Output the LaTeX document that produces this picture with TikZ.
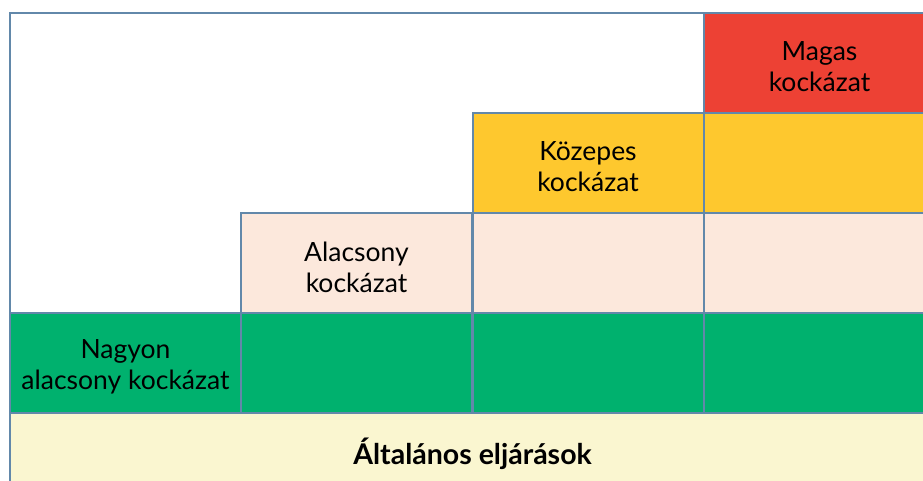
\documentclass[tikz,border=0pt]{standalone}
\usepackage{fontspec}
\setmainfont{Lato}
\definecolor{rimblue}{RGB}{98,136,170}
\definecolor{riskred}{RGB}{237,65,52}
\definecolor{riskyellow}{RGB}{254,200,46}
\definecolor{riskpeach}{RGB}{252,232,220}
\definecolor{riskgreen}{RGB}{0,177,110}
\definecolor{basecream}{RGB}{250,246,208}
\tikzset{
    cell/.style={rectangle,draw=rimblue,line width=2pt,minimum width=231pt,minimum height=100pt,inner sep=0pt},
    high/.style={cell,fill=riskred},
    mid/.style={cell,fill=riskyellow},
    low/.style={cell,fill=riskpeach},
    vlow/.style={cell,fill=riskgreen},
    celltext/.style={align=center,yshift=-4pt,inner sep=0pt,font=\fontsize{26.5}{31}\selectfont},
    base/.style={rectangle,draw=rimblue,line width=2pt,minimum width=925pt,minimum height=82pt,inner sep=0pt,fill=basecream,font=\fontsize{28.5}{31}\selectfont\bfseries},
}

\begin{document}
\begin{tikzpicture}[x=1pt,y=-1pt]
    \useasboundingbox (0,0) rectangle (923,480);
    \fill[white] (0,0) rectangle (923,480);
    \node[rectangle,draw=rimblue,line width=2pt,minimum width=925pt,minimum height=482pt,inner sep=0pt] (frame) at (472.5,254) {};
    % row 1
    \node[high] (m4) at (819.5,63) {};
    % row 2
    \node[mid] (k3) at (588,163) {};
    \node[mid] (k4) at (819.5,163) {};
    % row 3
    \node[low] (a2) at (356.5,263) {};
    \node[low] (a3) at (588,263) {};
    \node[low] (a4) at (819.5,263) {};
    % row 4
    \node[vlow] (n1) at (125.5,363) {};
    \node[vlow] (n2) at (356.5,363) {};
    \node[vlow] (n3) at (588,363) {};
    \node[vlow] (n4) at (819.5,363) {};
    % labels
    \node[celltext] (m4t) at (m4.center) {Magas\\kockázat};
    \node[celltext] (k3t) at (k3.center) {Közepes\\kockázat};
    \node[celltext] (a2t) at (a2.center) {Alacsony\\kockázat};
    \node[celltext] (n1t) at (n1.center) {Nagyon\\alacsony kockázat};
    % bottom
    \node[base] (alt) at (472.5,454) {Általános eljárások};
\end{tikzpicture}
\end{document}
